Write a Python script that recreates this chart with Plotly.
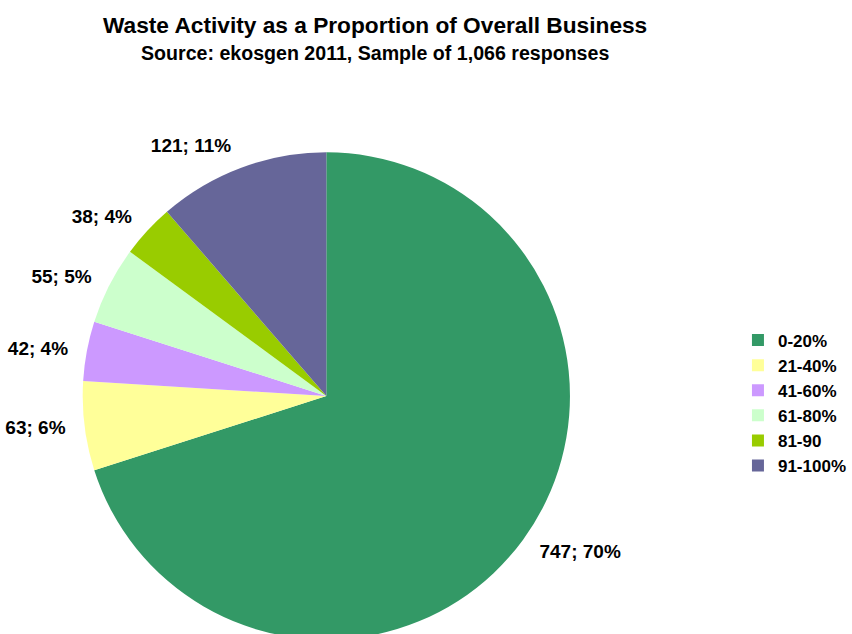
import plotly.graph_objects as go

# Share of turnover that comes from waste activity, by band
bands = ["0-20%", "21-40%", "41-60%", "61-80%", "81-90", "91-100%"]
responses = [747, 63, 42, 55, 38, 121]
colors = ["#339966", "#FFFF99", "#CC99FF", "#CCFFCC", "#99CC00", "#666699"]

W, H = 852, 670
font_family = "Liberation Sans, Arial, sans-serif"

# pie geometry in pixels (centre and domain radius), converted to paper domains
CX, CY, R = 322, 396, 248
LABEL_R = R + 14


def domain(radius):
    return dict(
        x=[(CX - radius) / W, (CX + radius) / W],
        y=[1 - (CY + radius) / H, 1 - (CY - radius) / H],
    )


common = dict(
    labels=bands,
    values=responses,
    sort=False,
    direction="clockwise",
    rotation=0,
)

fig = go.Figure()

# the coloured pie
fig.add_trace(
    go.Pie(
        **common,
        marker=dict(colors=colors, line=dict(width=0)),
        textinfo="none",
        domain=domain(R),
        hoverinfo="label+value+percent",
        showlegend=True,
    )
)

# a transparent, slightly larger copy that carries the value labels
fig.add_trace(
    go.Pie(
        **common,
        marker=dict(colors=["rgba(0,0,0,0)"] * len(bands), line=dict(width=0)),
        textposition="outside",
        texttemplate="%{value}; %{percent:.0%}",
        textfont=dict(family=font_family, size=19, color="black", weight="bold"),
        domain=domain(LABEL_R),
        hoverinfo="skip",
        showlegend=False,
    )
)

fig.update_layout(
    width=W,
    height=H,
    margin=dict(l=0, r=0, t=0, b=0),
    paper_bgcolor="white",
    plot_bgcolor="white",
    font=dict(family=font_family, color="black"),
    showlegend=True,
    legend=dict(
        x=741 / W,
        y=1 - 403 / H,
        xanchor="left",
        yanchor="middle",
        font=dict(family=font_family, size=17, color="black", weight="bold"),
        itemwidth=30,
        tracegroupgap=0,
    ),
    annotations=[
        dict(
            text="<b>Waste Activity as a Proportion of Overall Business</b>",
            x=372 / W, y=1 - 25 / H, xref="paper", yref="paper",
            xanchor="center", yanchor="middle", showarrow=False,
            font=dict(family=font_family, size=22.7, color="black"),
        ),
        dict(
            text="<b>Source: ekosgen 2011, Sample of 1,066 responses</b>",
            x=372 / W, y=1 - 53 / H, xref="paper", yref="paper",
            xanchor="center", yanchor="middle", showarrow=False,
            font=dict(family=font_family, size=19.6, color="black"),
        ),
    ],
)

fig.write_html(
    "out.html",
    post_script="document.body.style.overflow='hidden';document.documentElement.style.overflow='hidden';",
)
